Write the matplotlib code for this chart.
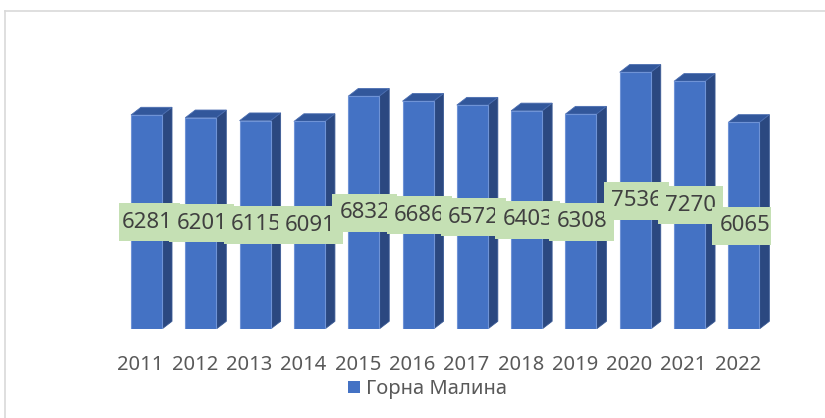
import matplotlib
matplotlib.use("Agg")
import matplotlib.pyplot as plt
from matplotlib.patches import Polygon, Rectangle
from matplotlib.lines import Line2D
from matplotlib.transforms import ScaledTranslation

years = ["2011", "2012", "2013", "2014", "2015", "2016", "2017", "2018", "2019", "2020", "2021", "2022"]
values = [6281, 6201, 6115, 6091, 6832, 6686, 6572, 6403, 6308, 7536, 7270, 6065]
series_name = "Горна Малина"

FONT = ["Noto Sans", "DejaVu Sans"]
plt.rcParams["font.family"] = FONT

W, H, DPI = 825, 418, 100
fig = plt.figure(figsize=(W / DPI, H / DPI), dpi=DPI)
fig.patch.set_facecolor("white")

# axes geometry (pixels)
ax_left, ax_right = 119.35, 771.0
ax_bottom_px = 89.0
ymax = 8000
px_per_unit = 214.0 / 6281
ax_h = ymax * px_per_unit
ax = fig.add_axes([ax_left / W, ax_bottom_px / H, (ax_right - ax_left) / W, ax_h / H])
ax.set_xlim(-0.5, len(years) - 0.5)
ax.set_ylim(0, ymax)
ax.patch.set_alpha(0)
for s in ax.spines.values():
    s.set_visible(False)
ax.set_yticks([])

px_x = (ax_right - ax_left) / len(years)
bw = 31.0 / px_x
dx = 10.0 / px_x
dy = 7.7 / px_per_unit

front_c = "#4472C4"
side_c = "#2B4880"
top_c = "#32579B"

idx = list(range(len(years)))
ax.bar(idx, values, width=bw, color=front_c, edgecolor="#6F93D6", linewidth=0.8, zorder=3)
for i, v in zip(idx, values):
    xl, xr = i - bw / 2, i + bw / 2
    ax.add_patch(Polygon([(xr, 0), (xr, v), (xr + dx, v + dy), (xr + dx, dy)],
                         closed=True, facecolor=side_c, edgecolor="#3A5A95", linewidth=0.6, zorder=2))
    ax.add_patch(Polygon([(xl, v), (xr, v), (xr + dx, v + dy), (xl + dx, v + dy)],
                         closed=True, facecolor=top_c, edgecolor="#4A6DB0", linewidth=0.6, zorder=2))

# data labels in green boxes
box_w, box_h = 65.0 / px_x, 38.0 / px_per_unit
off_x = 1.0 / px_x
z = 10
for i, v in zip(idx, values):
    cx, cy = i + off_x, v / 2
    ax.add_patch(Rectangle((cx - box_w / 2, cy - box_h / 2), box_w, box_h,
                           facecolor="#C5E0B4", edgecolor="none", zorder=z))
    ax.text(cx, cy, f"{v}", ha="center", va="center", fontsize=16,
            color="#404040", zorder=z + 1)
    z += 2

ax.set_xticks(idx)
ax.set_xticklabels(years, fontsize=14.5, color="#595959")
ax.tick_params(axis="x", length=0, pad=19)
shift = ScaledTranslation(-6 / DPI, 0, fig.dpi_scale_trans)
for lab in ax.get_xticklabels():
    lab.set_transform(lab.get_transform() + shift)

# legend
handle = Rectangle((0, 0), 1, 1, facecolor=front_c, edgecolor="none")
fig.legend([handle], [series_name], loc="center", bbox_to_anchor=(427.5 / W, 1 - 389 / H),
           frameon=False, fontsize=14.5, handlelength=0.6, handleheight=0.6, handletextpad=0.3,
           labelcolor="#595959", borderpad=0)

# outer chart border (top and left visible)
fig.add_artist(Line2D([4.5 / W, 1.0], [1 - 10.5 / H, 1 - 10.5 / H], transform=fig.transFigure,
                      color="#D9D9D9", linewidth=1.2))
fig.add_artist(Line2D([4.5 / W, 4.5 / W], [0, 1 - 10.5 / H], transform=fig.transFigure,
                      color="#D9D9D9", linewidth=1.2))

fig.savefig("out.png", dpi=DPI, facecolor="white")
